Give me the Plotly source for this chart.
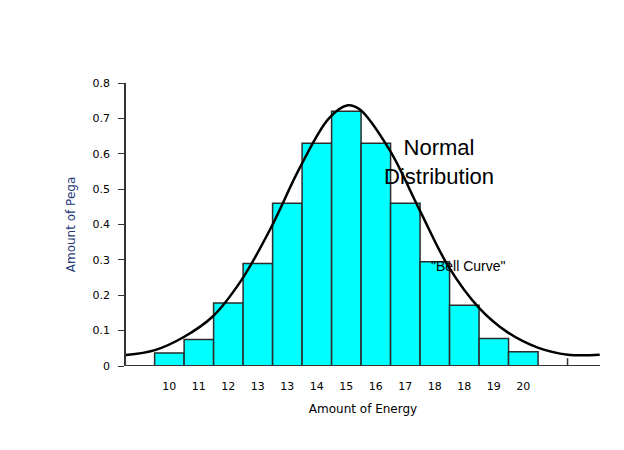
import plotly.graph_objects as go

# bar data
bar_labels = ["10", "11", "12", "13", "13", "14", "15", "16", "17", "18", "18", "19", "20"]
bar_values = [0.037, 0.075, 0.178, 0.29, 0.46, 0.63, 0.72, 0.63, 0.46, 0.295, 0.172, 0.078, 0.04]

# bell curve points (x in bar-index units)
curve_x = [-1.58, -0.49, 0.49, 1.47, 2.46, 3.44, 4.42, 5.41, 6.05, 6.46, 7.47, 8.49,
           9.47, 10.49, 11.47, 12.49, 13.51, 14.59]
curve_y = [0.03, 0.045, 0.082, 0.14, 0.245, 0.39, 0.56, 0.70, 0.737, 0.725, 0.61, 0.44,
           0.28, 0.165, 0.095, 0.052, 0.032, 0.032]

y_ticks = [0, 0.1, 0.2, 0.3, 0.4, 0.5, 0.6, 0.7, 0.8]
y_tick_labels = ["0", "0.1", "0.2", "0.3", "0.4", "0.5", "0.6", "0.7", "0.8"]

bar_x = list(range(len(bar_values)))

fig = go.Figure()
fig.add_trace(go.Bar(
    x=bar_x, y=bar_values, width=1,
    marker=dict(color="#00FFFF", line=dict(color="#2b2b2b", width=1.5)),
))
fig.add_trace(go.Scatter(
    x=curve_x, y=curve_y, mode="lines", line=dict(color="black", width=2.5, shape="spline"),
    cliponaxis=False,
))

# baseline and the extra tick at the right end
fig.add_shape(type="line", x0=-1.6, x1=14.6, y0=0, y1=0, line=dict(color="#333", width=2))
fig.add_shape(type="line", x0=13.5, x1=13.5, y0=0, y1=0.022, line=dict(color="#333", width=1.5))

fig.update_layout(
    width=624, height=450, showlegend=False,
    plot_bgcolor="white", paper_bgcolor="white",
    margin=dict(l=118, r=32, t=75, b=92, autoexpand=False),
    font=dict(family="DejaVu Sans", size=11, color="black"),
    xaxis=dict(
        range=[-1.47, 14.6], tickmode="array", tickvals=bar_x, ticktext=bar_labels,
        showgrid=False, zeroline=False, showline=False, ticks="", ticklabelstandoff=12,
        title=dict(text="Amount of Energy", standoff=12, font=dict(size=12)),
    ),
    yaxis=dict(
        range=[0, 0.8], tickmode="array", tickvals=y_ticks, ticktext=y_tick_labels,
        showgrid=False, zeroline=False,
        showline=True, linecolor="#333", linewidth=1.5, ticks="outside", ticklen=6,
        tickcolor="#333", ticklabelstandoff=6,
        title=dict(text="Amount of Pega", font=dict(size=12, color="#1f3a7a"), standoff=14),
    ),
)
# annotations placed by pixel position, converted to paper coords
w, h = 624 - 118 - 32, 450 - 75 - 92
def px(x, y):
    return (x - 118) / w, (450 - 92 - y) / h

nx, ny = px(488, 125)
bx, by = px(500, 268)
fig.add_annotation(x=nx, y=ny, xref="paper", yref="paper", text="Normal<br>Distribution",
                   showarrow=False, font=dict(family="Liberation Sans", size=22))
fig.add_annotation(x=bx, y=by, xref="paper", yref="paper", text='"Bell Curve"',
                   showarrow=False, font=dict(family="Liberation Sans", size=14))

fig.write_html("out.html")
